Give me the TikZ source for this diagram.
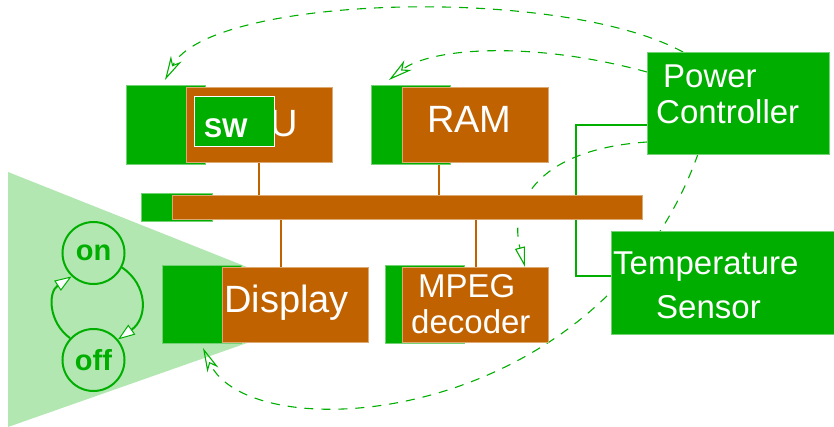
\documentclass[tikz,border=0pt]{standalone}
\usepackage{fontspec}
\setmainfont{Liberation Sans}
\usetikzlibrary{arrows.meta,calc}
\definecolor{grn}{RGB}{0,174,0}
\definecolor{brn}{RGB}{192,98,0}
\colorlet{lgrn}{grn!30!white}
\pgfdeclarelayer{tri}
\pgfdeclarelayer{wires}
\pgfsetlayers{tri,wires,main}
\begin{document}
\begin{tikzpicture}[x=1pt,y=-1pt,
  gbox/.style={rectangle, fill=grn, draw=grn!55!white, line width=0.8pt, inner sep=0pt, outer sep=0pt},
  obox/.style={rectangle, fill=brn, draw=brn!55!white, line width=0.8pt, inner sep=0pt, outer sep=0pt},
  bigtxt/.style={inner sep=0pt, anchor=base west, text=white, font=\fontsize{38}{44}\selectfont},
  midtxt/.style={inner sep=0pt, anchor=base west, text=white, font=\fontsize{33}{39}\selectfont},
  swtxt/.style={inner sep=0pt, anchor=base west, text=white, font=\bfseries\fontsize{27}{31}\selectfont},
  st/.style={circle, draw=grn, line width=2pt, minimum size=62pt, inner sep=0pt, text=grn,
             font=\bfseries\fontsize{29}{34}\selectfont},
  sarrow/.style={draw=grn, line width=2pt, -{Triangle[fill=white, length=17pt, width=12pt, line width=1pt]}},
  dsh/.style={draw=grn, line width=1.1pt, dash pattern=on 9pt off 8pt},
  barb/.style={-{Stealth[open, length=24pt, width=12pt, inset=7pt, line width=1.1pt]}},
  tri/.style={-{Triangle[open, length=20pt, width=10pt, line width=1.1pt]}},
  wire/.style={draw=grn, line width=2pt},
  bw/.style={draw=brn, line width=2pt}]

\useasboundingbox (0,0) rectangle (834,427);

% light green cone behind the state machine
\begin{pgfonlayer}{tri}
  \fill[lgrn] (8,172) -- (247,267) -- (247,343) -- (8,427) -- cycle;
\end{pgfonlayer}

% CPU with its software box
\node[gbox, minimum width=79pt, minimum height=79pt] (cpuG) at (165.5,124.5) {};
\node[obox, minimum width=146pt, minimum height=75pt] (cpuO) at (259,124.5) {};
\node[bigtxt] (cpuT) at (270.5,137) {U};
\node[gbox, draw=white, minimum width=80pt, minimum height=50pt] (sw) at (234,121) {};
\node[swtxt] (swT) at (204,138) {SW};

% RAM
\node[gbox, minimum width=79pt, minimum height=79pt] (ramG) at (410.5,124.5) {};
\node[obox, minimum width=146pt, minimum height=75pt] (ramO) at (475,124.5) {};
\node[bigtxt] (ramT) at (427,133) {RAM};

% bus
\node[gbox, minimum width=71pt, minimum height=28pt] (busG) at (176.5,207) {};
\node[obox, minimum width=470pt, minimum height=24pt] (bus) at (407,207) {};

% Display
\node[gbox, minimum width=79pt, minimum height=78pt] (dispG) at (201.5,304) {};
\node[obox, minimum width=146pt, minimum height=75pt] (dispO) at (295,304.5) {};
\node[bigtxt] (dispT) at (224,312) {Display};

% MPEG decoder
\node[gbox, minimum width=79pt, minimum height=78pt] (mpegG) at (424.5,304) {};
\node[obox, minimum width=146pt, minimum height=75pt] (mpegO) at (475,304.5) {};
\node[midtxt] (mpegT1) at (418,297) {MPEG};
\node[midtxt] (mpegT2) at (411,333) {decoder};

% Power controller and temperature sensor
\node[gbox, minimum width=182pt, minimum height=102pt] (pc) at (738,103) {};
\node[midtxt] (pcT1) at (663,88) {Power};
\node[midtxt] (pcT2) at (656,124) {Controller};
\node[gbox, minimum width=225pt, minimum height=103pt] (ts) at (723.5,282.5) {};
\node[midtxt] (tsT1) at (613,275) {Temperature};
\node[midtxt] (tsT2) at (656,318) {Sensor};

% bus taps, wire and control arrows, all beneath the boxes
\begin{pgfonlayer}{wires}
  \coordinate (cpuB) at (cpuO.south);
  \coordinate (ramB) at ([xshift=-36pt]ramO.south);
  \coordinate (dispB) at ([xshift=-14pt]dispO.north);
  \coordinate (mpegB) at ([xshift=1pt]mpegO.north);
  \draw[bw] (cpuB) -- (cpuB |- bus.north);
  \draw[bw] (ramB) -- (ramB |- bus.north);
  \draw[bw] (dispB) -- (dispB |- bus.south);
  \draw[bw] (mpegB) -- (mpegB |- bus.south);

  \draw[wire] ([yshift=-22pt]pc.west) -- ++(-71,0) |- ([yshift=6.5pt]ts.west);

  \draw[dsh, barb] ([xshift=36pt]pc.north west) .. controls (560,-15) and (210,-5) ..
        ([xshift=39pt,yshift=5pt]cpuG.north west);
  \draw[dsh, barb] ([yshift=-20pt]pc.north west) .. controls (530,40) and (430,48) ..
        ([xshift=18pt,yshift=5pt]ramG.north west);
  \draw[dsh, tri] ([yshift=12pt]pc.south west) .. controls (530,150) and (510,210) ..
        ([xshift=50pt]mpegO.north);
  \draw[dsh, barb] ([xshift=51pt]pc.south west) .. controls (600,428) and (250,452) ..
        ([xshift=1.5pt,yshift=-5pt]dispG.south);
\end{pgfonlayer}

% on/off state machine
\node[st] (on) at (93.5,253) {on};
\node[st] (off) at (93.5,360) {off};
\draw[sarrow] (on.-27) .. controls (148,285) and (148,318) .. (off.40);
\draw[sarrow] (off.137) .. controls (48,322) and (48,292) .. (on.227);

\end{tikzpicture}
\end{document}
